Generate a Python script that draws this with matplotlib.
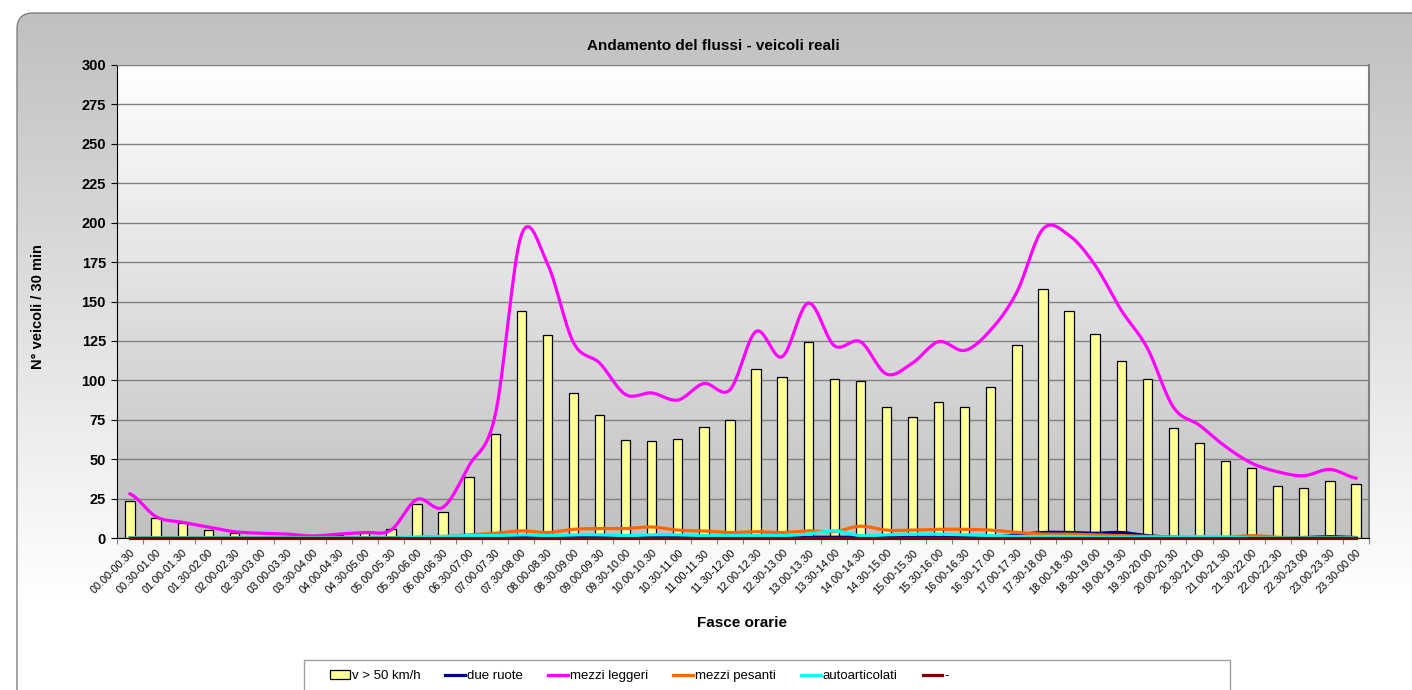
import numpy as np
import matplotlib
matplotlib.use('Agg')
import matplotlib.pyplot as plt
from matplotlib.patches import FancyBboxPatch, Rectangle

plt.rcParams['font.family'] = ['Liberation Sans', 'DejaVu Sans']

fasce = ['00.00-00.30', '00.30-01.00', '01.00-01.30', '01.30-02.00', '02.00-02.30', '02.30-03.00',
         '03.00-03.30', '03.30-04.00', '04.00-04.30', '04.30-05.00', '05.00-05.30', '05.30-06.00',
         '06.00-06.30', '06.30-07.00', '07.00-07.30', '07.30-08.00', '08.00-08.30', '08.30-09.00',
         '09.00-09.30', '09.30-10.00', '10.00-10.30', '10.30-11.00', '11.00-11.30', '11.30-12.00',
         '12.00-12.30', '12.30-13.00', '13.00-13.30', '13.30-14.00', '14.00-14.30', '14.30-15.00',
         '15.00-15.30', '15.30-16.00', '16.00-16.30', '16.30-17.00', '17.00-17.30', '17.30-18.00',
         '18.00-18.30', '18.30-19.00', '19.00-19.30', '19.30-20.00', '20.00-20.30', '20.30-21.00',
         '21.00-21.30', '21.30-22.00', '22.00-22.30', '22.30-23.00', '23.00-23.30', '23.30-00.00']

# v > 50 km/h (barre)
veloci = [23.5, 13, 9.5, 5, 3, 0.5, 0.5, 0, 2, 3, 6, 21.5, 16.5, 39, 66, 144, 129, 92,
          78, 62, 61.5, 62.5, 70.5, 75, 107, 102, 124, 101, 99.5, 83, 77, 86.5, 83, 95.5,
          122.5, 158, 144, 129.5, 112.5, 101, 70, 60, 49, 44.5, 33, 32, 36, 34]

due_ruote = [0, 0, 0, 0, 0, 0, 0, 0, 0, 0, 0, 0, 0, 0.5, 0.5, 0.5, 0.5, 0.5,
             1, 1, 1, 0.5, 0.5, 0.5, 0.5, 0.5, 0.5, 0.5, 0.5, 0.5, 0.5, 0.5, 0.5, 0.5,
             2, 3.5, 3.5, 3, 3.5, 1.5, 0.5, 0.3, 0.2, 0.2, 0.2, 0.3, 0.8, 0.3]

mezzi_leggeri = [28, 13.5, 10, 7, 4, 3, 2.5, 1.3, 2.5, 3.5, 5, 24.5, 19.5, 46, 78, 192, 174, 124,
                 111, 91, 92, 87.5, 98, 94, 131, 115, 149, 122, 124.5, 104, 111, 124.5, 119, 132,
                 156, 196, 192, 173, 144.5, 120.5, 83, 71.5, 58, 47.5, 42, 39.5, 43.5, 38]

mezzi_pesanti = [0, 0, 0, 0, 0, 0, 0, 0, 0, 0, 0, 0.5, 1, 2, 3, 4.5, 3.5, 5.5,
                 6, 6, 7, 5, 4.5, 3.5, 4, 3.5, 4.5, 4, 7.5, 5, 5, 5.5, 5.5, 5,
                 3.5, 2.5, 2.5, 2, 1.5, 1, 0.5, 0.5, 0.5, 1.5, 0.5, 0, 0, 0]

autoarticolati = [0, 0, 0, 0, 0, 0, 0, 0, 0, 0, 0, 0.5, 1, 1.5, 1.5, 2, 1.5, 2,
                  2, 1.5, 2, 2, 1.5, 1.5, 1.5, 1.5, 2.5, 4.5, 1.5, 2, 2.5, 2.5, 2, 1.5,
                  1, 1, 1, 0.5, 0.5, 0.5, 0.5, 1, 0.5, 0, 0, 0, 0, 0]

altro = [0] * 48


def liscia(y, n=20):
    # curva smussata tipo Excel (Catmull-Rom)
    y = np.asarray(y, dtype=float)
    p = np.concatenate([[y[0]], y, [y[-1]]])
    xs, ys = [], []
    t = np.linspace(0, 1, n, endpoint=False)
    for i in range(len(y) - 1):
        p0, p1, p2, p3 = p[i], p[i + 1], p[i + 2], p[i + 3]
        v = 0.5 * (2 * p1 + (-p0 + p2) * t + (2 * p0 - 5 * p1 + 4 * p2 - p3) * t ** 2
                   + (-p0 + 3 * p1 - 3 * p2 + p3) * t ** 3)
        xs.extend(i + t)
        ys.extend(v)
    xs.append(len(y) - 1)
    ys.append(y[-1])
    return np.array(xs), np.array(ys)


W, H = 1412, 690
fig = plt.figure(figsize=(W / 100, H / 100), dpi=100)

# sfondo area grafico (grigio -> bianco) con angolo arrotondato
bg = fig.add_axes([0, 0, 1, 1])
yy = np.linspace(13, 800, 400)
c = np.clip((yy - 13) / (600 - 13), 0, 1)
g = 0.753 + (1 - 0.753) * c
grad = np.dstack([g, g, g]).reshape(-1, 1, 3)
img = bg.imshow(grad, extent=(17, 1500, 800, 13), aspect='auto', origin='upper')
box = FancyBboxPatch((17, 13), 1500, 800, boxstyle='round,pad=0,rounding_size=16',
                     facecolor='none', edgecolor='#808080', linewidth=1)
bg.add_patch(box)
img.set_clip_path(box)
bg.add_patch(Rectangle((304, 660), 926, 60, facecolor='white', edgecolor='#a0a0a0', linewidth=1))
bg.set_xlim(0, W)
bg.set_ylim(H, 0)
bg.axis('off')

ax = fig.add_axes([117 / W, 1 - 538 / H, (1369 - 117) / W, (538 - 65) / H])
ax.set_facecolor('none')
x = np.arange(len(fasce))

# sfondo area tracciato (bianco -> grigio)
pg = np.linspace(1, 0.753, 300)
ax.imshow(np.dstack([pg, pg, pg]).reshape(-1, 1, 3), extent=(-0.5, 47.5, 0, 300),
          aspect='auto', origin='upper', zorder=0)

ax.bar(x, veloci, width=0.36, color='#FFFF99', edgecolor='black', linewidth=0.9,
       zorder=2, label='v > 50 km/h')

serie = [(due_ruote, '#000080', 'due ruote'),
         (mezzi_leggeri, '#FF00FF', 'mezzi leggeri'),
         (mezzi_pesanti, '#FF6600', 'mezzi pesanti'),
         (autoarticolati, '#00FFFF', 'autoarticolati'),
         (altro, '#800000', '-')]
for valori, colore, nome in serie:
    sx, sy = liscia(valori)
    if nome == '-':
        ax.plot(sx, sy, color=colore, linewidth=2.3, zorder=4, label=nome, clip_on=False)
    else:
        ax.plot(sx, sy, color=colore, linewidth=2.3, zorder=3, label=nome)

ax.set_xlim(-0.5, 47.5)
ax.set_ylim(0, 300)
ax.set_yticks(np.arange(0, 301, 25))
ax.yaxis.grid(True, color='#808080', linewidth=1)
ax.set_axisbelow(True)
ax.tick_params(axis='y', length=4, width=0.8, labelsize=10.5, pad=4)
for t in ax.get_yticklabels():
    t.set_fontweight('bold')

ax.set_xticks(x)
ax.set_xticklabels(fasce, rotation=45, ha='right', rotation_mode='anchor', fontsize=7.8)
ax.tick_params(axis='x', which='major', length=0, pad=7)
ax.set_xticks(np.arange(-0.5, 48, 1), minor=True)
ax.tick_params(axis='x', which='minor', length=4, width=0.8, color='#808080')

ax.spines['left'].set_color('black')
ax.spines['bottom'].set_color('black')
ax.spines['top'].set_color('#808080')
ax.spines['right'].set_color('#808080')
ax.spines['right'].set_linewidth(1.5)

fig.text(0.505, 1 - 46 / H, 'Andamento del flussi - veicoli reali', ha='center', va='center',
         fontsize=11, fontweight='bold')
fig.text(38 / W, 1 - 307 / H, 'N° veicoli / 30 min', rotation=90, ha='center', va='center',
         fontsize=10.5, fontweight='bold')
fig.text(742 / W, 1 - 623 / H, 'Fasce orarie', ha='center', va='center',
         fontsize=11, fontweight='bold')

h, l = ax.get_legend_handles_labels()
ordine = [5, 0, 1, 2, 3, 4]
fig.legend([h[i] for i in ordine], [l[i] for i in ordine], loc='center left',
           bbox_to_anchor=(330 / W, 1 - 676 / H), ncol=6, frameon=False, fontsize=9.5,
           borderaxespad=0, borderpad=0, handlelength=1.5, handletextpad=0.15,
           columnspacing=1.9)

fig.savefig('out.png', dpi=100)
